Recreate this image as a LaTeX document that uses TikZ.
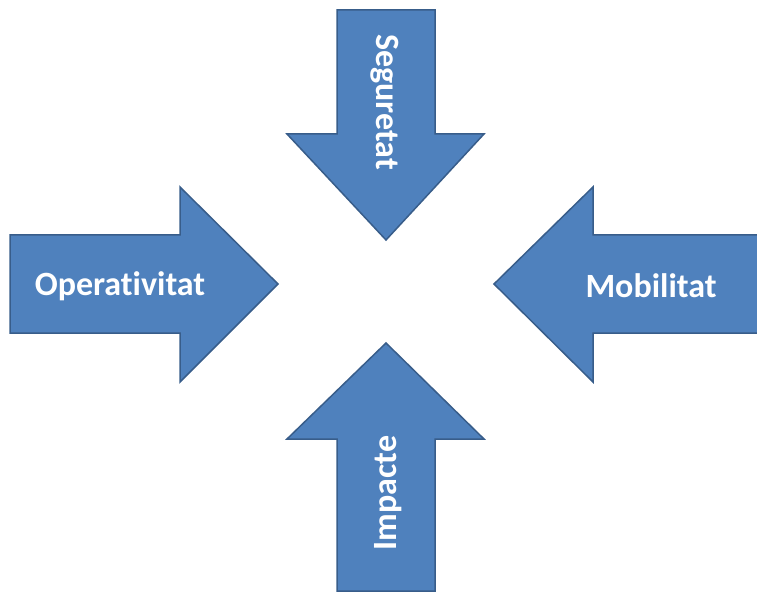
\documentclass[tikz,border=0pt]{standalone}
\usepackage{fontspec}
\setmainfont[Ligatures=NoCommon]{Carlito}
\definecolor{fletxa}{HTML}{4F81BD}
\definecolor{vora}{HTML}{385D8A}
\tikzset{
    fletxa/.style={fill=fletxa, draw=vora, line width=1.5pt, line join=miter},
    etiqueta/.style={text=white, font=\bfseries\fontsize{34}{36}\selectfont, inner sep=0pt}
}
\begin{document}
\begin{tikzpicture}[x=1pt, y=-1pt] %Quatre fletxes cap al centre
            \useasboundingbox (0,0) rectangle (757,593);

            \coordinate (S1) at (337,10);
            \coordinate (S2) at (435,10);
            \coordinate (S3) at (435,134);
            \coordinate (S4) at (484,134);
            \coordinate (S5) at (386,240);
            \coordinate (S6) at (287,134);
            \coordinate (S7) at (337,134);

            \coordinate (O1) at (10,235);
            \coordinate (O2) at (180,235);
            \coordinate (O3) at (180,187);
            \coordinate (O4) at (278,284);
            \coordinate (O5) at (180,382);
            \coordinate (O6) at (180,333);
            \coordinate (O7) at (10,333);

            \coordinate (M1) at (762,235);
            \coordinate (M2) at (593,235);
            \coordinate (M3) at (593,187);
            \coordinate (M4) at (494,284);
            \coordinate (M5) at (593,382);
            \coordinate (M6) at (593,333);
            \coordinate (M7) at (762,333);

            \coordinate (I1) at (337,591);
            \coordinate (I2) at (435,591);
            \coordinate (I3) at (435,439);
            \coordinate (I4) at (484,439);
            \coordinate (I5) at (386,343);
            \coordinate (I6) at (287,439);
            \coordinate (I7) at (337,439);

            \draw[fletxa] (S1) -- (S2) -- (S3) -- (S4) -- (S5) -- (S6) -- (S7) -- cycle;
            \draw[fletxa] (O1) -- (O2) -- (O3) -- (O4) -- (O5) -- (O6) -- (O7) -- cycle;
            \draw[fletxa] (M1) -- (M2) -- (M3) -- (M4) -- (M5) -- (M6) -- (M7) -- cycle;
            \draw[fletxa] (I1) -- (I2) -- (I3) -- (I4) -- (I5) -- (I6) -- (I7) -- cycle;

            \node[etiqueta, rotate=-90] (seguretat) at (385,102) {Seguretat};
            \node[etiqueta] (operativitat) at (120,286) {Operativitat};
            \node[etiqueta] (mobilitat) at (651,286) {Mobilitat};
            \node[etiqueta, rotate=90] (impacte) at (388,493) {Impacte};
        \end{tikzpicture}
\end{document}
